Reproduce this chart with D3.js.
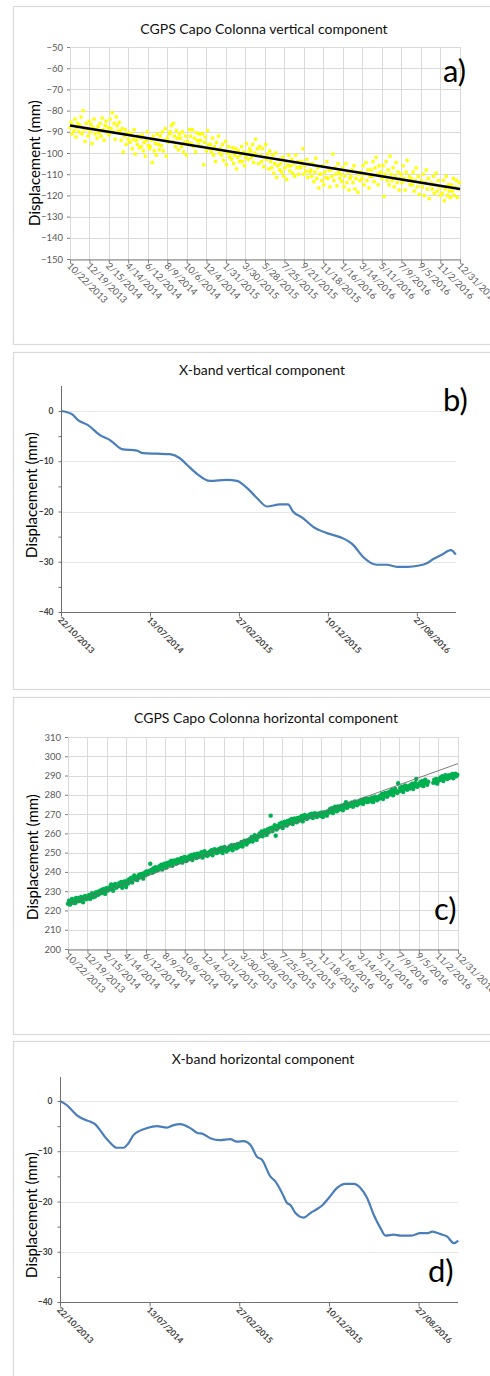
<!DOCTYPE html>
<html><head><meta charset="utf-8">
<script src="https://cdn.jsdelivr.net/npm/d3@7"></script>
<style>body{margin:0;background:#fff}svg{display:block}</style>
</head><body>
<svg id="chart" width="490" height="1376"></svg>
<script>
// ---------- DATA ----------
// Panel a / c : CGPS daily series, one reading every 3 days from 10/22/2013
const gpsTickLabels = ["10/22/2013","12/19/2013","2/15/2014","4/14/2014","6/12/2014","8/9/2014","10/6/2014","12/4/2014","1/31/2015","3/30/2015","5/28/2015","7/25/2015","9/21/2015","11/18/2015","1/16/2016","3/14/2016","5/11/2016","7/9/2016","9/5/2016","11/2/2016","12/31/2016"];
const gpsStart = "10/22/2013";
const gpsStepDays = 3;

const verticalTicks = [-50,-60,-70,-80,-90,-100,-110,-120,-130,-140,-150];
const verticalValues = [
-88,-85.5,-91,-87,-89.5,-84,-92.5,-88,-86,-90,
-87,-83,-91,-80,-89,-94.5,-86,-88.5,-92,-85,
-90,-86.5,-95.5,-88,-84,-91,-89,-93,-87.5,-90.5,
-86,-92,-83.5,-89,-94,-87,-85,-90.5,-88,-91.5,
-84,-88.5,-81,-90,-86,-93.5,-83,-87,-89.5,-85.5,
-90,-94,-88.5,-99.5,-92,-89,-96,-91,-93.5,-90.5,
-95,-91,-98,-93.5,-89,-100.5,-94,-96,-92,-97.5,
-93,-97,-91.5,-99,-95,-101.5,-94,-90,-96.5,-98,
-97,-94,-104.5,-92,-99,-95.5,-101,-91,-96,-98.5,
-92,-96.5,-90,-99,-94,-88.5,-101.5,-93,-95,-91,
-90,-87,-94.5,-86,-92,-97,-89.5,-93,-98.5,-91,
-93,-97,-90,-99.5,-95,-92,-101,-94.5,-96,-89,
-92,-95.5,-89,-97,-93,-99.5,-90.5,-94,-96,-91,
-94,-97,-91,-105.5,-95,-92.5,-99,-89.5,-96,-98,
-96,-99.5,-93,-101,-97,-104,-95,-98.5,-92,-100,
-98,-101,-96,-103.5,-99,-94.5,-105.5,-100,-97,-102,
-100,-103,-97.5,-105,-101,-98,-107.5,-102,-99,-104,
-101,-97,-104,-99.5,-106,-102,-95.5,-100,-103,-98,
-99,-102,-96,-104.5,-100,-93.5,-101,-98,-105,-97,
-101,-104,-98,-106.5,-102,-96,-103,-100.5,-107.5,-99,
-104,-107,-101,-109.5,-105,-100,-111.5,-106,-103,-108,
-105,-109,-102,-111,-107,-104,-112.5,-106,-101,-108.5,
-106,-103,-109.5,-105,-111,-101,-107,-104,-110,-106.5,
-107,-104,-98,-110,-106,-108.5,-103,-111.5,-105,-109,
-108,-111,-105,-113.5,-109,-102.5,-112,-107,-116.5,-110,
-110,-113,-106,-115,-109,-111.5,-104,-112,-108,-116,
-108,-111,-100.5,-113,-107,-110,-115.5,-105,-109,-112,
-110,-113.5,-107,-116,-111,-105,-114,-109,-117.5,-112,
-111,-108,-114,-106,-117,-112,-109,-118.5,-110,-113,
-109,-112,-106,-115,-110,-104.5,-113,-108,-116.5,-111,
-108,-111,-104,-113.5,-107,-102,-110,-115,-106,-109.5,
-109,-112,-106,-120.5,-110,-104,-113,-108,-115,-101.5,
-110,-113,-107,-116,-111,-104.5,-114,-109,-117.5,-112,
-110,-114,-106,-112,-117.5,-109,-103.5,-113,-111,-115,
-112,-115,-109,-118,-113,-107,-116,-111,-119.5,-114,
-113,-116,-110,-120,-114,-108,-117,-112,-121.5,-115,
-114,-117,-111,-119,-115,-109.5,-118,-113,-116,-120,
-116,-119,-113,-122.5,-117,-111,-120,-115,-118,-121,
-115,-118,-112,-120,-116,-113,-121,-117,-114
];
const verticalTrend = [-87, -117];   // linear fit at first / last date

const horizontalTicks = [200,210,220,230,240,250,260,270,280,290,300,310];
const horizontalValues = [
223.5,225,223,224.5,226,224,225.5,223.8,226.5,225,
224.8,226.5,225,227,225.5,224.2,226.8,227.5,225.8,226.2,
226.5,228,226,227.5,229,226.8,228.5,227.2,229.5,228,
228.2,230,228.8,230.5,229.2,231,229.8,228.6,231.5,230.2,
230.5,232,231,233.5,231.5,230.2,232.8,233.8,231.8,232.5,
232.5,234.2,233,234.8,231.8,233.5,235,234,232.2,235.5,
234,236.2,235,237,234.5,236.5,238.2,236,237.5,235.8,
236.8,238.5,237.2,239,237.8,236.5,239.5,238.2,240.2,238.8,
239,240.5,244.2,241,239.5,241.8,240.2,242.5,241.2,240.8,
241.5,243,242,243.8,241.2,242.8,244.2,243.2,242.2,244.6,
243.5,245,244,245.8,243.2,244.8,246,245.2,244.4,246.5,
245,246.5,245.5,247.2,244.8,246.2,247.8,246.8,245.6,247.5,
246.5,248.2,247,248.8,246.2,247.8,249.2,248,247.2,249.5,
247.8,249.5,248.2,250.2,247.4,249,250.8,248.6,249.8,248.4,
249,250.5,249.5,251.2,248.6,250.2,251.8,250.8,249.8,251.5,
250.2,252,250.8,252.5,249.8,251.4,253,251.8,250.6,252.2,
251.5,253.2,252,253.8,251.2,252.8,254,253.2,252.2,254.5,
253,254.6,253.5,255.5,253.2,254.8,256.2,255.2,254.2,256.5,
255.5,257,256,258.2,255.8,257.5,259,257.8,256.6,258.5,
258.2,260,258.8,261,258.5,260.2,261.5,260.5,259.2,262,
260.5,262.5,269.2,263,261.2,262.8,264.2,258.8,262,263.8,
263,265,263.8,265.5,262.8,264.5,266,265.2,264,266.5,
265,266.8,265.5,267.5,264.8,266.2,267.8,266.8,265.8,268,
266.5,268.2,267,269,266.2,267.8,269.5,268.5,267.5,269.2,
268.2,269.8,268.8,270.2,268,269.5,270.5,269.8,268.5,270.2,
269.5,270.5,269,270.8,268.5,269.8,271,270.2,269.2,271.5,
270.8,272.5,271.2,273,270.5,272,273.8,272.6,271.5,274,
272.2,274,272.8,274.5,272,273.5,275,276.2,273.2,274.8,
274,275.5,274.5,276,273.8,275.2,276.5,275.8,274.6,276.2,
275.5,277,276,277.5,275.2,276.8,278,277.2,276.2,277.8,
276.5,278,277,278.5,276.2,277.8,279,278.2,277.2,278.8,
278,279.5,278.5,280.5,277.8,279.2,281,280,279,281.2,
280,281.8,280.5,282.5,279.8,281.5,283,282,281,286,
281.8,283.5,282.5,284.2,281.5,283,284.8,283.8,282.6,284.5,
283.2,285,284,285.8,283,284.5,286.2,288.2,284.2,285.5,
285,286.5,285.5,287.2,284.5,286,287.8,286.2,285.2,286.8,
null,null,null,null,286.2,287.8,286.5,288.2,285.8,287.4,
287.5,289,288,289.6,287.2,288.6,290.2,289.2,288.2,290,
288.8,290.2,289.2,290.8,288.6,290,291,289.6,290.4
];
const horizontalTrend = [223.2, 296.2];

// Panels b / d : X-band series, x = position along the acquisition axis (label slots 0..4)
const xbandTickLabels = ["22/10/2013","13/07/2014","27/02/2015","10/12/2015","27/08/2016"];
const xbandTicks = [0,-10,-20,-30,-40];
const xbandEnd = 4.44;

const xbVertPos = [0,0.120,0.191,0.303,0.438,0.551,0.607,0.685,0.854,0.921,1.079,1.225,1.337,1.416,1.528,1.674,1.865,1.978,2.090,2.202,2.315,2.461,2.551,2.607,2.719,2.831,2.989,3.135,3.281,3.393,3.551,3.663,3.775,3.899,4.011,4.112,4.180,4.281,4.382,4.438];
const xbVertVal = [0,-0.6,-1.8,-2.8,-4.8,-5.8,-6.6,-7.6,-7.9,-8.4,-8.5,-8.6,-9.4,-10.7,-12.5,-13.9,-13.7,-13.9,-15.3,-17.3,-19,-18.6,-18.6,-20,-21.3,-23,-24.3,-25.1,-26.6,-29,-30.6,-30.6,-31,-31,-30.8,-30.3,-29.5,-28.6,-27.7,-28.6];

const xbHorzPos = [0,0.074,0.130,0.186,0.261,0.335,0.391,0.447,0.499,0.555,0.633,0.708,0.764,0.819,0.894,0.969,1.080,1.192,1.266,1.341,1.453,1.527,1.601,1.676,1.788,1.899,1.974,2.048,2.123,2.197,2.253,2.346,2.402,2.477,2.533,2.570,2.626,2.719,2.793,2.868,2.924,2.998,3.091,3.184,3.277,3.352,3.426,3.501,3.575,3.631,3.724,3.799,3.911,4.022,4.097,4.153,4.246,4.320,4.395,4.443];
const xbHorzVal = [0,-0.8,-1.8,-2.8,-3.6,-4.1,-4.6,-5.8,-7.1,-8.2,-9.3,-9.3,-8.4,-6.8,-5.9,-5.4,-5.0,-5.3,-4.8,-4.6,-5.4,-6.3,-6.6,-7.4,-7.8,-7.6,-8.1,-8.0,-8.7,-11.1,-11.7,-15.0,-16.0,-18.3,-20.3,-20.7,-22.3,-23.2,-22.3,-21.5,-20.8,-19.3,-17.3,-16.5,-16.5,-17.3,-19.3,-22.7,-25.3,-26.8,-26.6,-26.8,-26.8,-26.3,-26.3,-26.0,-26.5,-27.0,-28.3,-27.8];

// ---------- DRAWING ----------
const svg = d3.select("#chart");
const FONT = "Lato, 'Open Sans', 'DejaVu Sans', sans-serif";
const parse = d3.timeParse("%m/%d/%Y");
const GRID = "#dadada";

function frame(y0, y1) {
  svg.append("rect").attr("x", 13.5).attr("y", y0 + 0.5).attr("width", 520).attr("height", y1 - y0)
    .attr("fill", "none").attr("stroke", "#d9d9d9").attr("stroke-width", 1.2);
}
function title(t, cx, by) {
  svg.append("text").attr("x", cx).attr("y", by).attr("text-anchor", "middle")
    .attr("font-family", FONT).attr("font-size", 14).attr("fill", "#111").text(t);
}
function yLabel(cx, cy) {
  svg.append("text").attr("transform", `translate(${cx},${cy}) rotate(-90)`)
    .attr("text-anchor", "middle").attr("dy", "0.35em")
    .attr("font-family", FONT).attr("font-size", 15).attr("fill", "#000").text("Displacement (mm)");
}
function letter(t, x, y) {
  svg.append("text").attr("x", x).attr("y", y).attr("font-family", FONT)
    .attr("font-size", 31).attr("fill", "#000").text(t);
}

function gpsPanel(o) {
  const dates = gpsTickLabels.map(parse);
  const x = d3.scaleTime().domain([dates[0], dates[dates.length - 1]]).range([o.x0, o.x1]);
  const y = d3.scaleLinear().domain(o.domain).range([o.yBot, o.yTop]);
  const g = svg.append("g");
  // grid
  g.selectAll(null).data(o.ticks).join("line")
    .attr("x1", o.x0).attr("x2", o.x1)
    .attr("y1", d => Math.round(y(d)) + 0.5).attr("y2", d => Math.round(y(d)) + 0.5)
    .attr("stroke", GRID).attr("stroke-width", 1);
  g.selectAll(null).data(dates).join("line")
    .attr("x1", d => Math.round(x(d)) + 0.5).attr("x2", d => Math.round(x(d)) + 0.5)
    .attr("y1", o.yTop).attr("y2", o.yBot)
    .attr("stroke", GRID).attr("stroke-width", 1);
  // points
  const start = parse(gpsStart);
  const pts = o.values.map((v, i) => ({ d: d3.timeDay.offset(start, i * gpsStepDays), v }))
    .filter(p => p.v != null);
  if (o.square) {
    g.selectAll(null).data(pts).join("rect")
      .attr("x", p => x(p.d) - 1.6).attr("y", p => y(p.v) - 1.6)
      .attr("width", 3.2).attr("height", 3.2).attr("fill", o.color);
  } else {
    g.selectAll(null).data(pts).join("circle")
      .attr("cx", p => x(p.d)).attr("cy", p => y(p.v)).attr("r", 2.2).attr("fill", o.color);
  }
  // trend
  g.append("line")
    .attr("x1", x(dates[0])).attr("y1", y(o.trend[0]))
    .attr("x2", x(dates[dates.length - 1])).attr("y2", y(o.trend[1]))
    .attr("stroke", o.trendColor).attr("stroke-width", o.trendWidth);
  // axes
  const ax = g.append("g").attr("transform", `translate(0,${Math.round(o.yBot) + 0.5})`)
    .call(d3.axisBottom(x).tickValues(dates).tickFormat(d3.timeFormat("%-m/%-d/%Y")).tickSize(4).tickSizeOuter(0));
  ax.select(".domain").attr("stroke", "#808080");
  ax.selectAll(".tick line").attr("stroke", "#808080");
  ax.selectAll("text").attr("x", 0).attr("y", 0).attr("dy", 0)
    .attr("transform", "translate(-4,7) rotate(45)").attr("text-anchor", "start")
    .attr("font-family", FONT).attr("font-size", 9.5).attr("fill", "#595959");
  const ay = g.append("g").attr("transform", `translate(${o.x0},0)`)
    .call(d3.axisLeft(y).tickValues(o.ticks).tickSize(3).tickPadding(4));
  ay.select(".domain").remove();
  ay.selectAll(".tick line").attr("stroke", "#808080");
  ay.selectAll("text").attr("font-family", FONT).attr("font-size", 9.5).attr("fill", "#595959");
}

function xbandPanel(o) {
  const x = d3.scaleLinear().domain([0, xbandEnd]).range([o.x0, o.x1]);
  const y = d3.scaleLinear().domain([-40, 0]).range([o.yBot, o.yZero]);
  const g = svg.append("g");
  g.selectAll(null).data(xbandTicks.filter(d => d > -40)).join("line")
    .attr("x1", o.x0).attr("x2", o.x1)
    .attr("y1", d => Math.round(y(d)) + 0.5).attr("y2", d => Math.round(y(d)) + 0.5)
    .attr("stroke", "#e6e6e6").attr("stroke-width", 1);
  const line = d3.line().x(d => x(d[0])).y(d => y(d[1])).curve(d3.curveMonotoneX);
  g.append("path").datum(o.pos.map((p, i) => [p, o.val[i]]))
    .attr("d", line).attr("fill", "none").attr("stroke", "#4a7ebb")
    .attr("stroke-width", 2.2).attr("stroke-linejoin", "round");
  // axes
  const ax = g.append("g").attr("transform", `translate(0,${Math.round(o.yBot) + 0.5})`)
    .call(d3.axisBottom(x).tickValues(d3.range(xbandTickLabels.length))
      .tickFormat(i => xbandTickLabels[i]).tickSize(4).tickSizeOuter(0));
  ax.select(".domain").attr("stroke", "#6f6f6f").attr("d", `M${o.x0},0H${o.x1}`);
  ax.selectAll(".tick line").attr("stroke", "#6f6f6f");
  ax.selectAll("text").attr("x", 0).attr("y", 0).attr("dy", 0)
    .attr("transform", "translate(-4,8) rotate(45)").attr("text-anchor", "start")
    .attr("font-family", FONT).attr("font-size", 8.5).attr("font-weight", "bold").attr("fill", "#404040");
  const minorTicks = d3.range(-40, 1, 5);
  const ay = g.append("g").attr("transform", `translate(${Math.round(o.x0) + 0.5},0)`)
    .call(d3.axisLeft(y).tickValues(minorTicks).tickSize(3).tickPadding(5)
      .tickFormat(d => (d % 10 === 0 ? d3.format("d")(d) : "")));
  ay.select(".domain").attr("stroke", "#6f6f6f").attr("d", `M0,${o.yTop}V${Math.round(o.yBot) + 0.5}`);
  ay.selectAll(".tick line").attr("stroke", "#6f6f6f");
  ay.selectAll("text").attr("font-family", FONT).attr("font-size", 8.5)
    .attr("font-weight", "bold").attr("fill", "#404040");
}

// Panel a
frame(6, 344);
title("CGPS Capo Colonna vertical component", 264, 34);
gpsPanel({ x0: 70, x1: 460, yTop: 47, yBot: 259, domain: [-150, -50], ticks: verticalTicks,
  values: verticalValues, trend: verticalTrend, color: "#ffff00", square: true,
  trendColor: "#000", trendWidth: 2.6 });
yLabel(35, 163);
letter("a)", 443, 82);

// Panel b
frame(352, 689);
title("X-band vertical component", 262, 375);
xbandPanel({ x0: 61, x1: 456, yTop: 386, yZero: 411, yBot: 612, pos: xbVertPos, val: xbVertVal });
yLabel(32, 495);
letter("b)", 443, 411);

// Panel c
frame(697, 1034);
title("CGPS Capo Colonna horizontal component", 266, 723);
gpsPanel({ x0: 68, x1: 458, yTop: 737, yBot: 949, domain: [200, 310], ticks: horizontalTicks,
  values: horizontalValues, trend: horizontalTrend, color: "#00b050", square: false,
  trendColor: "#6e6e6e", trendWidth: 0.9 });
yLabel(33, 857);
letter("c)", 434, 920);

// Panel d
frame(1041, 1420);
title("X-band horizontal component", 263, 1064);
xbandPanel({ x0: 60, x1: 458, yTop: 1077, yZero: 1101, yBot: 1302, pos: xbHorzPos, val: xbHorzVal });
yLabel(32, 1215);
letter("d)", 428, 1282);
</script>
</body></html>
